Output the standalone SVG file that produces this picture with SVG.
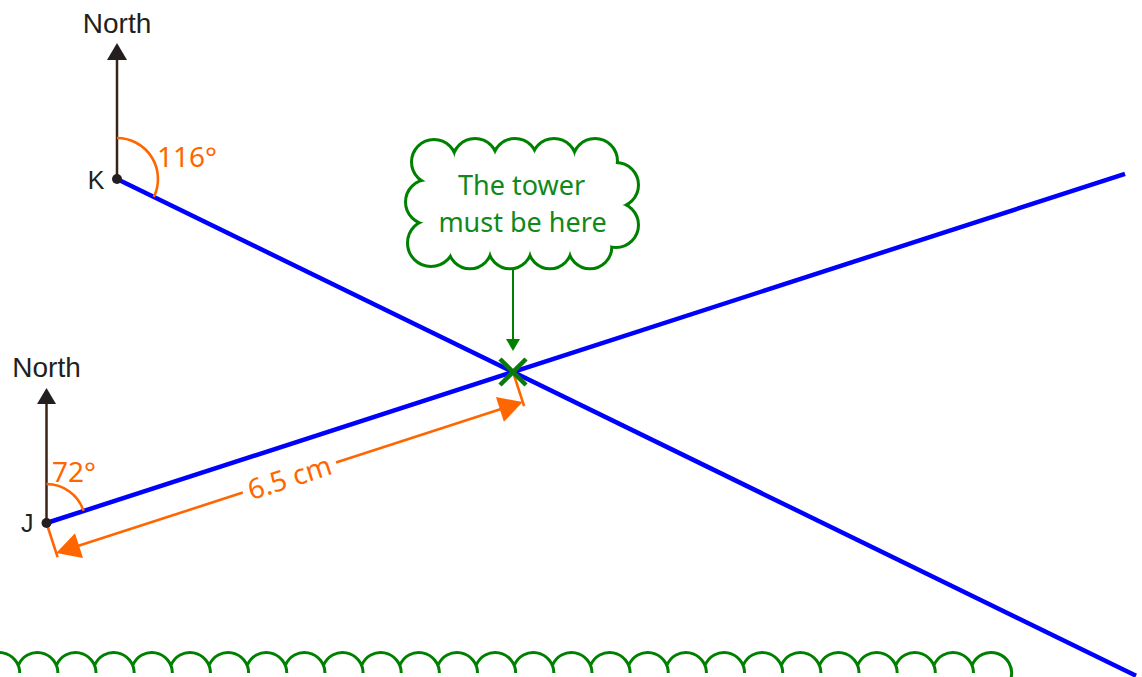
<svg xmlns="http://www.w3.org/2000/svg" width="1142" height="677" viewBox="0 0 1142 677">
<style>
.lbl{font-family:"Liberation Sans",Arial,sans-serif;fill:#231f20}
.ang{font-family:"Noto Sans","Open Sans",sans-serif;fill:#ff6600;font-size:28px}
.ctext{font-family:"Noto Sans","Open Sans",sans-serif;fill:#11881a;font-size:27px;text-anchor:middle}
.blue{stroke:#0000ff;stroke-width:4.5;fill:none}
.north{stroke:#3a2416;stroke-width:2.5;fill:none}
.nhead{fill:#231f20}
.org{stroke:#ff6600;stroke-width:2.6;fill:none}
.ohead{fill:#ff6600}
.grn{stroke:#008000;fill:none}
.dot{fill:#231f20}
</style>
<g id="connectors">
<line class="blue" x1="117" y1="179" x2="1136" y2="675.7"/>
<line class="blue" x1="46.5" y1="523" x2="1125" y2="173.9"/>
<line class="north" x1="117" y1="179" x2="117" y2="58"/>
<polygon class="nhead" points="117,43 107,60 127,60"/>
<line class="north" x1="46.5" y1="523" x2="46.5" y2="402"/>
<polygon class="nhead" points="46.5,388 37,404 56,404"/>
<g id="dimension">
<line class="org" x1="46.5" y1="523" x2="57.6" y2="557.2"/>
<line class="org" x1="513" y1="372" x2="524.1" y2="406.2"/>
<line class="org" x1="70" y1="548.5" x2="242.85" y2="492.6"/>
<line class="org" x1="336.05" y1="462.4" x2="508" y2="406.8"/>
<polygon class="ohead" points="522.7,402 495.9,397.1 503.9,421.8"/>
<polygon class="ohead" points="56.2,553 75.0,533.2 83.0,558.0"/>
<text class="ang" font-size="27" text-anchor="middle" transform="translate(289.5,477.5) rotate(-18)" x="0" y="10">6.5 cm</text>
</g>
<line class="grn" stroke-width="2" x1="513" y1="267" x2="513" y2="341"/>
<polygon fill="#008000" points="513,351 506,339 520,339"/>
</g>
<g id="node-K">
<path class="org" d="M117 138 A41 41 0 0 1 153.85 196.97"/>
<circle class="dot" cx="117" cy="179" r="5"/>
<text class="lbl" x="117" y="33" font-size="28" text-anchor="middle">North</text>
<text class="lbl" x="104.5" y="188.5" font-size="25" text-anchor="end">K</text>
<text class="ang" x="157" y="167">116°</text>
</g>
<g id="node-J">
<path class="org" d="M46.5 484 A39 39 0 0 1 83.59 510.95"/>
<circle class="dot" cx="46.5" cy="523" r="5"/>
<text class="lbl" x="46.5" y="377" font-size="28" text-anchor="middle">North</text>
<text class="lbl" x="33.5" y="532" font-size="25" text-anchor="end">J</text>
<text class="ang" x="52" y="482">72°</text>
</g>
<g id="node-tower">
<line stroke="#0a7a0a" stroke-width="4.5" x1="500" y1="359" x2="526" y2="385"/>
<line stroke="#0a7a0a" stroke-width="4.5" x1="500" y1="385" x2="526" y2="359"/>
</g>
<g id="node-cloud">
<g fill="none" stroke="#008000" stroke-width="6">
<circle cx="434" cy="162" r="21"/><circle cx="475" cy="161" r="21"/><circle cx="515" cy="161" r="21"/><circle cx="554" cy="161" r="21"/><circle cx="595" cy="161" r="21"/>
<circle cx="616" cy="185" r="21"/><circle cx="616" cy="225" r="21"/>
<circle cx="590" cy="247" r="20.3"/><circle cx="550" cy="247" r="20.3"/><circle cx="510" cy="247" r="20.3"/><circle cx="470" cy="247" r="20.3"/>
<circle cx="431" cy="243" r="22"/><circle cx="428" cy="202" r="21"/>
</g>
<g fill="#ffffff">
<circle cx="434" cy="162" r="21"/><circle cx="475" cy="161" r="21"/><circle cx="515" cy="161" r="21"/><circle cx="554" cy="161" r="21"/><circle cx="595" cy="161" r="21"/>
<circle cx="616" cy="185" r="21"/><circle cx="616" cy="225" r="21"/>
<circle cx="590" cy="247" r="20.3"/><circle cx="550" cy="247" r="20.3"/><circle cx="510" cy="247" r="20.3"/><circle cx="470" cy="247" r="20.3"/>
<circle cx="431" cy="243" r="22"/><circle cx="428" cy="202" r="21"/>
<polygon points="434,162 475,161 515,161 554,161 595,161 616,185 616,225 590,247 550,247 510,247 470,247 431,243 428,202"/>
</g>
<text class="ctext" x="521.5" y="195">The tower</text>
<text class="ctext" x="522.5" y="232">must be here</text>
</g>
<g id="ground">
<path class="grn" stroke-width="3" d="M-19.86 665.5 A20.5 20.5 0 0 1 19.72 673 M18.30 665.5 A20.5 20.5 0 0 1 57.88 673 M56.45 665.5 A20.5 20.5 0 0 1 96.03 673 M94.60 665.5 A20.5 20.5 0 0 1 134.18 673 M132.75 665.5 A20.5 20.5 0 0 1 172.33 673 M170.90 665.5 A20.5 20.5 0 0 1 210.48 673 M209.05 665.5 A20.5 20.5 0 0 1 248.63 673 M247.20 665.5 A20.5 20.5 0 0 1 286.78 673 M285.35 665.5 A20.5 20.5 0 0 1 324.93 673 M323.50 665.5 A20.5 20.5 0 0 1 363.08 673 M361.65 665.5 A20.5 20.5 0 0 1 401.23 673 M399.80 665.5 A20.5 20.5 0 0 1 439.38 673 M437.95 665.5 A20.5 20.5 0 0 1 477.53 673 M476.10 665.5 A20.5 20.5 0 0 1 515.68 673 M514.25 665.5 A20.5 20.5 0 0 1 553.83 673 M552.40 665.5 A20.5 20.5 0 0 1 591.98 673 M590.55 665.5 A20.5 20.5 0 0 1 630.13 673 M628.70 665.5 A20.5 20.5 0 0 1 668.28 673 M666.85 665.5 A20.5 20.5 0 0 1 706.43 673 M705.00 665.5 A20.5 20.5 0 0 1 744.58 673 M743.15 665.5 A20.5 20.5 0 0 1 782.73 673 M781.30 665.5 A20.5 20.5 0 0 1 820.88 673 M819.45 665.5 A20.5 20.5 0 0 1 859.03 673 M857.60 665.5 A20.5 20.5 0 0 1 897.18 673 M895.75 665.5 A20.5 20.5 0 0 1 935.33 673 M933.90 665.5 A20.5 20.5 0 0 1 973.48 673 M972.05 665.5 A20.5 20.5 0 0 1 1010.93 678.3"/>
</g>
</svg>
